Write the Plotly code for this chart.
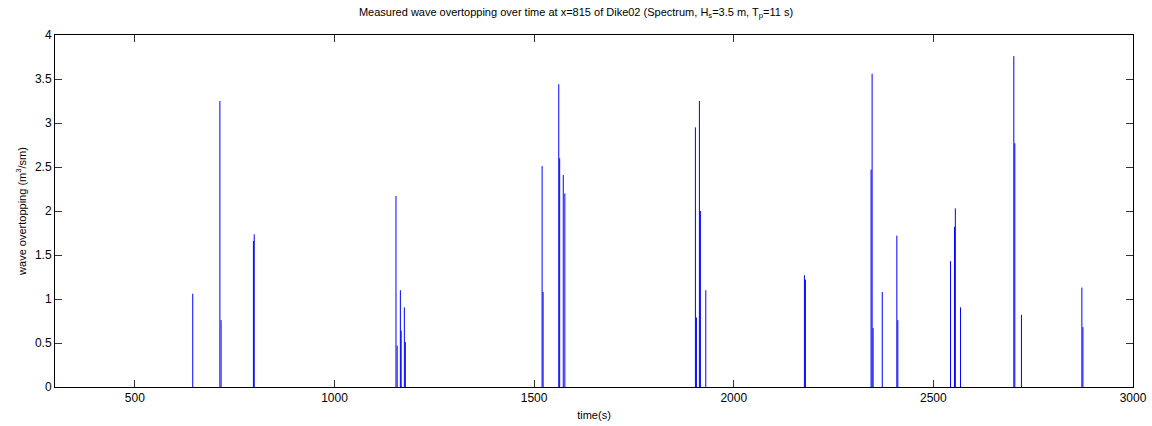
import plotly.graph_objects as go

# Event times (s) and measured overtopping volumes (m^3/sm)
times = [645, 713, 716, 797, 799, 1154, 1157, 1165, 1167, 1175, 1177.5,
         1520, 1522.5, 1561.7, 1564, 1573, 1577,
         1904, 1906.5, 1914, 1916.5, 1930, 2177, 2179.5,
         2344, 2346.6, 2349, 2372, 2408.5, 2411,
         2543, 2553, 2555, 2568, 2701.5, 2704, 2720.6, 2872, 2874.6]
volumes = [1.06, 3.25, 0.76, 1.66, 1.735, 2.17, 0.47, 1.10, 0.64, 0.905, 0.51,
           2.51, 1.08, 3.44, 2.60, 2.41, 2.20,
           2.95, 0.79, 3.25, 2.00, 1.10, 1.27, 1.22,
           2.47, 3.56, 0.67, 1.08, 1.72, 0.76,
           1.43, 1.82, 2.03, 0.905, 3.76, 2.77, 0.82, 1.13, 0.68]

xs, ys = [], []
for t, v in zip(times, volumes):
    xs += [t, t, None]
    ys += [0, v, None]

fig = go.Figure()
fig.add_trace(go.Scatter(x=xs, y=ys, mode="lines",
                         line=dict(color="#0000ff", width=1),
                         hoverinfo="skip", showlegend=False))

font_family = "Liberation Sans, Arial"
axis_common = dict(showgrid=False, zeroline=False, showline=True, mirror="ticks",
                   linecolor="#000000", linewidth=1, ticks="inside", ticklen=7,
                   tickcolor="#333333", automargin=False,
                   tickfont=dict(family=font_family, size=12, color="#000000"))

fig.update_layout(
    width=1152, height=426,
    margin=dict(l=55, r=19, t=35, b=39, autoexpand=False),
    paper_bgcolor="white", plot_bgcolor="white",
    title=dict(text="Measured wave overtopping over time at x=815 of Dike02 (Spectrum, H<sub>s</sub>=3.5 m, T<sub>p</sub>=11 s)",
               x=0.5, xanchor="center", y=0.972, yanchor="middle",
               font=dict(family=font_family, size=11, color="#000000")),
    xaxis=dict(range=[300, 3000], tickvals=[500, 1000, 1500, 2000, 2500, 3000],
               title=dict(text="time(s)", font=dict(family=font_family, size=11, color="#000000"), standoff=6),
               **axis_common),
    yaxis=dict(range=[0, 4], tickvals=[0, 0.5, 1, 1.5, 2, 2.5, 3, 3.5, 4],
               ticktext=["0", "0.5", "1", "1.5", "2", "2.5", "3", "3.5", "4"],
               title=dict(text="wave overtopping (m<sup>3</sup>/sm)", font=dict(family=font_family, size=11, color="#000000"), standoff=6),
               **axis_common),
)

fig.write_html("out.html")
